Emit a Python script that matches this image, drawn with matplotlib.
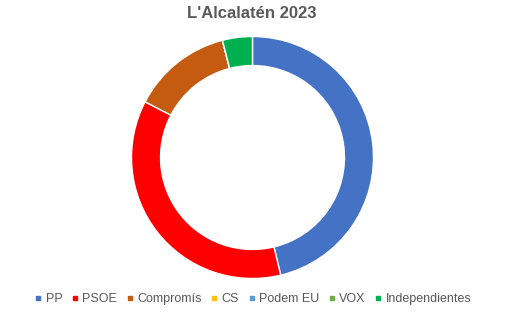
import matplotlib
matplotlib.use("Agg")
import matplotlib.pyplot as plt
from matplotlib.lines import Line2D

plt.rcParams["font.family"] = ["Liberation Sans", "DejaVu Sans"]

# Vote share (%)
parties = ["PP", "PSOE", "Compromís", "CS", "Podem EU", "VOX", "Independientes"]
shares = [46.3, 36.4, 13.4, 0.0, 0.0, 0.0, 4.0]
colors = ["#4472C4", "#FF0000", "#C55A11", "#FFC000", "#5B9BD5", "#70AD47", "#00B050"]

title = "L'Alcalatén 2023"
text_grey = "#595959"

fig = plt.figure(figsize=(5.11, 3.14), dpi=100)

# ring centred at about (252, 157) px, outer radius ~121 px
ax = fig.add_axes([(252.5 - 121) / 511, 1 - (157.5 + 121) / 314, 242 / 511, 242 / 314])
ax.pie(
    shares,
    colors=colors,
    startangle=90,
    counterclock=False,
    radius=1.0,
    wedgeprops=dict(width=0.24, edgecolor="white", linewidth=1.0),
)
ax.set_xlim(-1, 1)
ax.set_ylim(-1, 1)
ax.set_aspect("equal")
ax.axis("off")

fig.text(0.493, 1 - 14 / 314, title, ha="center", va="center",
         fontsize=12, fontweight="bold", color=text_grey)

handles = [
    Line2D([], [], marker="s", linestyle="none", markersize=3.5,
           markerfacecolor=c, markeredgecolor=c)
    for c in colors
]
fig.legend(
    handles, parties,
    loc="center", bbox_to_anchor=(0.495, 1 - 299 / 314),
    ncol=len(parties), frameon=False, fontsize=9,
    handlelength=0.6, handletextpad=0.3, columnspacing=0.7,
    labelcolor=text_grey, borderpad=0,
)

fig.savefig("out.png", dpi=100)
plt.close(fig)
